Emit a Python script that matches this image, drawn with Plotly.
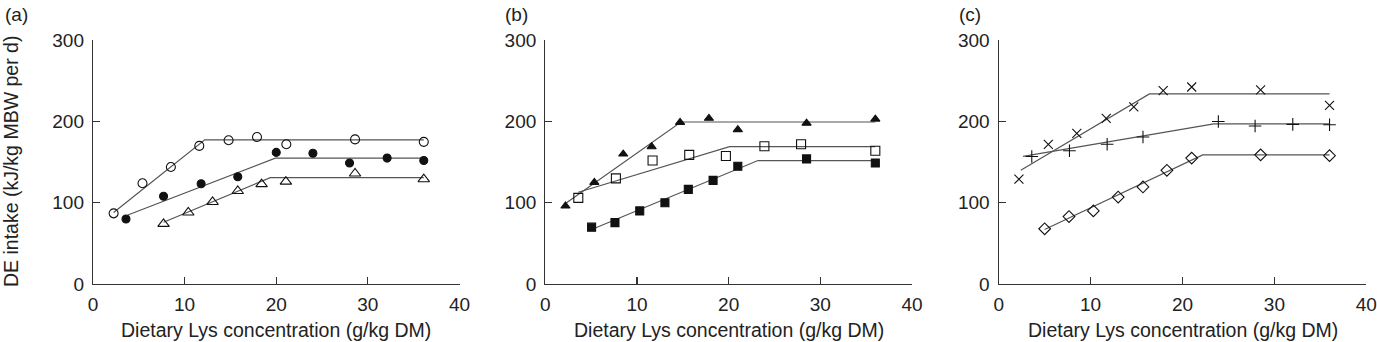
import plotly.graph_objects as go

W, H = 1377, 342

# ---- Panel (a) ----
a_open_circle_x = [2.25, 5.4, 8.5, 11.6, 14.8, 17.9, 21.1, 28.6, 36.1]
a_open_circle_y = [87, 124, 144, 170, 177, 181, 172, 178, 175]
a_open_circle_fit_x = [2.25, 12.2, 36.1]
a_open_circle_fit_y = [88, 177.5, 177.5]

a_filled_circle_x = [3.6, 7.7, 11.8, 15.8, 20.0, 24.0, 28.0, 32.1, 36.1]
a_filled_circle_y = [80, 108, 123.5, 132, 162, 161, 149, 155, 152]
a_filled_circle_fit_x = [3.8, 19.9, 36.1]
a_filled_circle_fit_y = [85, 155, 155]

a_open_tri_x = [7.7, 10.4, 13.05, 15.8, 18.4, 21.05, 28.6, 36.1]
a_open_tri_y = [74, 88, 101, 114.5, 123, 126, 136, 129]
a_open_tri_fit_x = [7.7, 19.35, 36.1]
a_open_tri_fit_y = [76, 131, 131]

# ---- Panel (b) ----
b_filled_tri_x = [2.2, 5.35, 8.5, 11.6, 14.7, 17.85, 21.0, 28.5, 36.0]
b_filled_tri_y = [96, 125, 160, 169, 199, 204, 190, 198, 203]
b_filled_tri_fit_x = [2.2, 14.8, 36.0]
b_filled_tri_fit_y = [99, 199.4, 199.4]

b_open_sq_x = [3.6, 7.7, 11.7, 15.7, 19.7, 23.9, 27.9, 36.0]
b_open_sq_y = [106, 130, 152, 159, 157.6, 169.5, 172, 164]
b_open_sq_fit_x = [3.6, 20.1, 36.0]
b_open_sq_fit_y = [113, 169, 169]

b_filled_sq_x = [5.05, 7.6, 10.3, 13.05, 15.6, 18.3, 21.0, 28.5, 36.0]
b_filled_sq_y = [70, 75.5, 90, 100, 116.5, 127.6, 145, 154, 149]
b_filled_sq_fit_x = [5.05, 23.2, 36.0]
b_filled_sq_fit_y = [67, 152, 152]

# ---- Panel (c) ----
c_x_mark_x = [2.2, 5.4, 8.5, 11.7, 14.7, 17.9, 21.0, 28.5, 36.0]
c_x_mark_y = [129, 172, 185.5, 204, 218, 238, 242.5, 239, 220]
c_x_mark_fit_x = [2.4, 16.4, 36.0]
c_x_mark_fit_y = [140, 234, 234]

c_plus_x = [3.6, 7.7, 11.8, 15.7, 23.9, 27.9, 32.0, 36.0]
c_plus_y = [157, 164, 172, 181, 200, 194.5, 196.5, 196]
c_plus_fit_x = [2.65, 23.4, 36.0]
c_plus_fit_y = [157, 197, 197]

c_diamond_x = [5.0, 7.65, 10.3, 13.0, 15.7, 18.3, 21.0, 28.5, 36.0]
c_diamond_y = [68, 83, 90, 107, 119.5, 140, 155, 159, 158]
c_diamond_fit_x = [5.0, 22.2, 36.0]
c_diamond_fit_y = [67, 159, 159]

x_ticks = [0, 10, 20, 30, 40]
y_ticks = [0, 100, 200, 300]
panel_labels = ["(a)", "(b)", "(c)"]
x_title = "Dietary Lys concentration (g/kg DM)"
y_title = "DE intake (kJ/kg MBW per d)"

FONT = "Liberation Sans, Arial, sans-serif"
LINE_C = "#555555"
MARK_C = "#111111"
AXIS_C = "#333333"
TEXT_C = "#222222"

fig = go.Figure()

panels = [
    ("x", "y", [
        (a_open_circle_x, a_open_circle_y, a_open_circle_fit_x, a_open_circle_fit_y, "circle-open", 9),
        (a_filled_circle_x, a_filled_circle_y, a_filled_circle_fit_x, a_filled_circle_fit_y, "circle", 8),
        (a_open_tri_x, a_open_tri_y, a_open_tri_fit_x, a_open_tri_fit_y, "triangle-up-open", 10),
    ]),
    ("x2", "y2", [
        (b_filled_tri_x, b_filled_tri_y, b_filled_tri_fit_x, b_filled_tri_fit_y, "triangle-up", 8),
        (b_open_sq_x, b_open_sq_y, b_open_sq_fit_x, b_open_sq_fit_y, "square-open", 9),
        (b_filled_sq_x, b_filled_sq_y, b_filled_sq_fit_x, b_filled_sq_fit_y, "square", 8),
    ]),
    ("x3", "y3", [
        (c_x_mark_x, c_x_mark_y, c_x_mark_fit_x, c_x_mark_fit_y, "x-thin-open", 9),
        (c_plus_x, c_plus_y, c_plus_fit_x, c_plus_fit_y, "cross-thin-open", 9),
        (c_diamond_x, c_diamond_y, c_diamond_fit_x, c_diamond_fit_y, "diamond-open", 9),
    ]),
]

for xa, ya, series in panels:
    for sx, sy, fx, fy, sym, size in series:
        fig.add_trace(go.Scatter(x=fx, y=fy, mode="lines", xaxis=xa, yaxis=ya,
                                 line=dict(color=LINE_C, width=1.2),
                                 showlegend=False, hoverinfo="skip"))
        fig.add_trace(go.Scatter(x=sx, y=sy, mode="markers", xaxis=xa, yaxis=ya,
                                 marker=dict(symbol=sym, size=size, color=MARK_C,
                                             line=dict(color=MARK_C, width=1.1)),
                                 showlegend=False))

y_dom = [1 - 284 / H, 1 - 40.3 / H]
x_doms = [[93 / W, 459.5 / W], [545.3 / W, 912 / W], [998.7 / W, 1366.3 / W]]

axis_common = dict(showline=True, linecolor=AXIS_C, linewidth=1.2, showgrid=False,
                   zeroline=False, ticks="inside", ticklen=7, tickwidth=1.2,
                   tickcolor=AXIS_C, tickfont=dict(family=FONT, size=19, color=TEXT_C),
                   automargin=False, fixedrange=True)

layout = dict(width=W, height=H, margin=dict(l=0, r=0, t=0, b=0),
              paper_bgcolor="white", plot_bgcolor="white", showlegend=False)

for i, name in enumerate(["", "2", "3"]):
    layout["xaxis" + name] = dict(domain=x_doms[i], range=[0, 40], tickvals=x_ticks,
                                  anchor="y" + name, ticklabelstandoff=3, **axis_common)
    layout["yaxis" + name] = dict(domain=y_dom, range=[0, 300], tickvals=y_ticks,
                                  anchor="x" + name, ticklabelstandoff=4, **axis_common)

fig.update_layout(**layout)

label_x = [3, 503, 957]
annotations = []
for i in range(3):
    annotations.append(dict(text=panel_labels[i], xref="paper", yref="paper",
                            x=label_x[i] / W, y=1 - 2 / H, xanchor="left", yanchor="top",
                            showarrow=False, font=dict(family=FONT, size=19, color=TEXT_C)))
    cx = (x_doms[i][0] + x_doms[i][1]) / 2
    annotations.append(dict(text=x_title, xref="paper", yref="paper",
                            x=cx, y=1 - 330 / H, xanchor="center", yanchor="middle",
                            showarrow=False, font=dict(family=FONT, size=19.5, color=TEXT_C)))
annotations.append(dict(text=y_title, xref="paper", yref="paper",
                        x=11 / W, y=1 - 162 / H, xanchor="center", yanchor="middle",
                        textangle=-90, showarrow=False,
                        font=dict(family=FONT, size=19.5, color=TEXT_C)))
fig.update_layout(annotations=annotations)

fig.write_html("out.html", config={"displayModeBar": False, "staticPlot": True},
               post_script="document.body.style.margin='0';document.body.style.overflow='hidden';")
